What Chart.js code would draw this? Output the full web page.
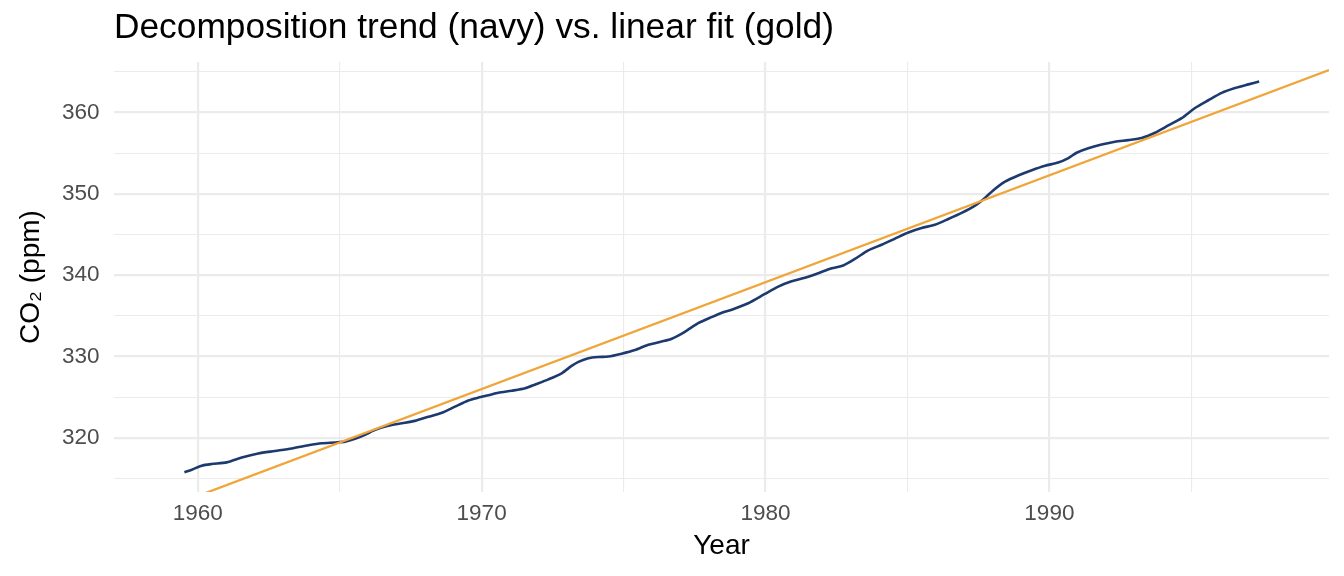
<!DOCTYPE html>
<html>
<head>
<meta charset="utf-8">
<title>CO2 trend vs linear fit</title>
<script src="https://cdn.jsdelivr.net/npm/chart.js@4.4.1/dist/chart.umd.min.js"></script>
<style>
  html, body { margin: 0; padding: 0; background: #ffffff; }
  #wrap { width: 1344px; height: 576px; }
</style>
</head>
<body>
<div id="wrap"><canvas id="chart" width="1344" height="576"></canvas></div>
<script>
// decomposition trend (year, ppm)
const trendYears = [
  1959.53, 1959.79, 1960.14, 1960.49, 1961.02, 1961.55, 1962.13, 1962.72, 1963.31, 1963.90,
  1964.37, 1964.84, 1965.19, 1965.54, 1965.89, 1966.25, 1966.71, 1967.19, 1967.65, 1968.12,
  1968.60, 1969.06, 1969.53, 1969.88, 1970.24, 1970.59, 1971.06, 1971.53, 1971.91, 1972.35,
  1972.82, 1973.17, 1973.41, 1973.76, 1974.11, 1974.46, 1974.93, 1975.40, 1975.87, 1976.34,
  1976.70, 1977.16, 1977.63, 1978.10, 1978.51, 1978.81, 1979.39, 1979.98, 1980.45, 1980.92,
  1981.39, 1981.86, 1982.33, 1982.74, 1983.15, 1983.62, 1984.09, 1984.56, 1985.03, 1985.50,
  1985.97, 1986.44, 1986.91, 1987.38, 1987.73, 1988.08, 1988.44, 1988.90, 1989.38, 1989.85,
  1990.31, 1990.67, 1990.96, 1991.37, 1991.84, 1992.31, 1992.78, 1993.25, 1993.72, 1994.19,
  1994.66, 1995.13, 1995.60, 1996.07, 1996.54, 1997.01, 1997.39
];
const trendValues = [
  315.8, 316.1, 316.6, 316.8, 317.0, 317.6, 318.1, 318.4, 318.7, 319.1,
  319.35, 319.45, 319.55, 319.9, 320.4, 321.0, 321.5, 321.8, 322.1, 322.6,
  323.1, 323.85, 324.6, 324.95, 325.25, 325.55, 325.8, 326.1, 326.6, 327.2,
  327.95, 328.85, 329.35, 329.8, 329.95, 330.0, 330.35, 330.8, 331.45, 331.85,
  332.2, 333.05, 334.1, 334.85, 335.45, 335.75, 336.55, 337.7, 338.6, 339.25,
  339.7, 340.25, 340.85, 341.2, 342.0, 343.05, 343.75, 344.5, 345.25, 345.8,
  346.2, 346.9, 347.65, 348.55, 349.5, 350.6, 351.5, 352.25, 352.9, 353.45,
  353.85, 354.4, 355.05, 355.6, 356.05, 356.4, 356.6, 356.85, 357.5, 358.4,
  359.3, 360.55, 361.5, 362.4, 363.0, 363.45, 363.8
];

// linear fit, end points across the panel
const fitYears = [1957.05, 1999.85];
const fitValues = [309.0, 365.2];

// axis ranges and ticks
const xRange = [1957.05, 1999.85];
const yRange = [313.36, 366.2];
const xMajorTicks = [1960, 1970, 1980, 1990];
const xMinorTicks = [1965, 1975, 1985, 1995];
const yMajorTicks = [320, 330, 340, 350, 360];
const yMinorTicks = [315, 325, 335, 345, 355, 365];

const NAVY = "#1d3a6f";
const GOLD = "#f0a53a";
const GRID = "#ebebeb";
const FONT = "'Liberation Sans', Arial, Helvetica, sans-serif";

function gridTicks(major, minor) {
  return major.concat(minor).sort(function (a, b) { return a - b; }).map(function (v) {
    return { value: v };
  });
}

function gridWidth(major) {
  return function (ctx) {
    return major.indexOf(ctx.tick.value) >= 0 ? 2.2 : 1.1;
  };
}

const trendPoints = trendYears.map(function (yr, i) { return { x: yr, y: trendValues[i] }; });
const fitPoints = fitYears.map(function (yr, i) { return { x: yr, y: fitValues[i] }; });

const ctx = document.getElementById("chart").getContext("2d");
const chart = new Chart(ctx, {
  type: "line",
  data: {
    datasets: [
      {
        label: "Linear fit",
        data: fitPoints,
        borderColor: GOLD,
        borderWidth: 2.3,
        pointRadius: 0,
        tension: 0,
        clip: 0,
      },
      {
        label: "Trend",
        data: trendPoints,
        borderColor: NAVY,
        borderWidth: 2.6,
        pointRadius: 0,
        tension: 0.25,
        clip: 0,
      },
    ],
  },
  options: {
    responsive: false,
    devicePixelRatio: 1,
    animation: false,
    layout: { padding: { left: 0, right: 15, top: 0, bottom: 0 } },
    plugins: {
      legend: { display: false },
      tooltip: { enabled: false },
      title: {
        display: true,
        text: "Decomposition trend (navy) vs. linear fit (gold)",
        align: "start",
        fullSize: false,
        color: "#000000",
        font: { family: FONT, size: 35.3, weight: "normal", lineHeight: 1.2 },
        padding: { top: 7.3, bottom: 12.34 },
      },
    },
    scales: {
      x: {
        type: "linear",
        min: xRange[0],
        max: xRange[1],
        afterBuildTicks: function (scale) { scale.ticks = gridTicks(xMajorTicks, xMinorTicks); },
        afterFit: function (scale) { scale.height = 84; },
        grid: { color: GRID, lineWidth: gridWidth(xMajorTicks), drawTicks: false },
        border: { display: false },
        ticks: {
          padding: 8,
          maxRotation: 0,
          autoSkip: false,
          color: "#4d4d4d",
          font: { family: FONT, size: 22.5 },
          callback: function (v) { return xMajorTicks.indexOf(v) >= 0 ? String(v) : ""; },
        },
        title: {
          display: true,
          text: "Year",
          color: "#000000",
          font: { family: FONT, size: 28 },
          padding: { top: 0, bottom: 12.5 },
        },
      },
      y: {
        type: "linear",
        min: yRange[0],
        max: yRange[1],
        afterBuildTicks: function (scale) { scale.ticks = gridTicks(yMajorTicks, yMinorTicks); },
        afterFit: function (scale) { scale.width = 114; },
        grid: { color: GRID, lineWidth: gridWidth(yMajorTicks), drawTicks: false },
        border: { display: false },
        ticks: {
          padding: 14.5,
          autoSkip: false,
          color: "#4d4d4d",
          font: { family: FONT, size: 22.5 },
          callback: function (v) { return yMajorTicks.indexOf(v) >= 0 ? String(v) : ""; },
        },
        title: {
          display: true,
          text: "CO\u2082 (ppm)",
          color: "#000000",
          font: { family: FONT, size: 28 },
          padding: { top: 14.5, bottom: 0 },
        },
      },
    },
  },
});
</script>
</body>
</html>
